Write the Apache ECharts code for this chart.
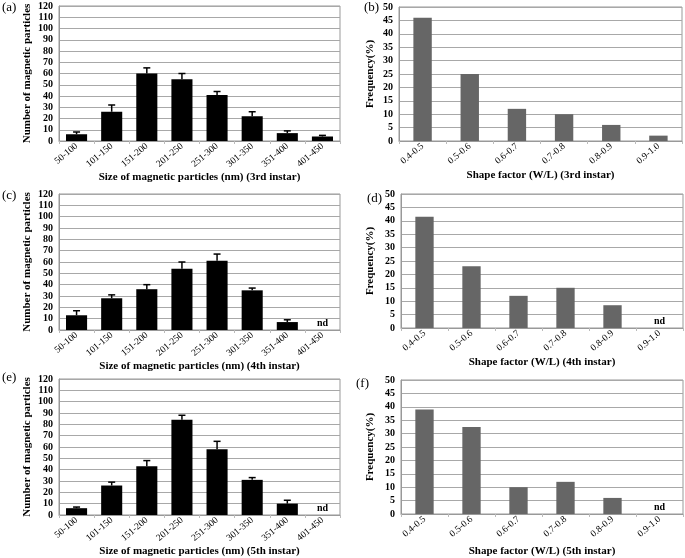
<!DOCTYPE html>
<html><head><meta charset="utf-8">
<script src="https://cdn.jsdelivr.net/npm/echarts@6/dist/echarts.min.js"></script>
<style>html,body{margin:0;padding:0;background:#fff}#c{width:685px;height:558px}</style>
</head><body><div id="c"></div>
<script>
const sizeCats = ['50-100','101-150','151-200','201-250','251-300','301-350','351-400','401-450'];
const shapeCats = ['0.4-0.5','0.5-0.6','0.6-0.7','0.7-0.8','0.8-0.9','0.9-1.0'];
const sizeTicks = [0,10,20,30,40,50,60,70,80,90,100,110,120];
const shapeTicks = [0,5,10,15,20,25,30,35,40,45,50];

const size3 = [6, 26, 60, 55, 41, 22, 7, 4];
const size3Err = [8, 32, 65, 60, 44, 26, 9, 5];
const size4 = [13, 28, 36, 54, 61, 35, 7, null];
const size4Err = [17, 31, 40, 60, 67, 37, 9, null];
const size5 = [6, 26, 43, 84, 58, 31, 10, null];
const size5Err = [7, 29, 48, 88, 65, 33, 13, null];
const shape3 = [46, 25, 12, 10, 6, 2];
const shape4 = [41.5, 23, 12, 15, 8.5, null];
const shape5 = [39, 32.5, 10, 12, 6, null];

const sizeTitles = ['Size of magnetic particles (nm) (3rd instar)','Size of magnetic particles (nm) (4th instar)','Size of magnetic particles (nm) (5th instar)'];
const shapeTitles = ['Shape factor (W/L) (3rd instar)','Shape factor (W/L) (4th instar)','Shape factor (W/L) (5th instar)'];
const panelLabels = ['(a)','(b)','(c)','(d)','(e)','(f)'];

const FONT = '"Liberation Serif", "Times New Roman", serif';
const chart = echarts.init(document.getElementById('c'));

const grids = [
  {left:59, width:281, top:6, height:135},
  {left:399, width:283, top:7, height:134},
  {left:59, width:281, top:194, height:136},
  {left:401, width:282, top:194, height:134},
  {left:59, width:281, top:379, height:137},
  {left:401, width:282, top:380, height:134}
];
const xGaps = [30, 29, 26, 29, 30, 32];
const yGaps = [26, 23, 26, 25, 26, 25];

const xAxes = [], yAxes = [], series = [];
const sizeSets = [[size3,size3Err],[size4,size4Err],[size5,size5Err]];
const shapeSets = [shape3, shape4, shape5];

function barData(arr){
  return arr.map(v => v === null
    ? {value:0, label:{show:true, position:'top', formatter:'nd', fontFamily:FONT, fontWeight:'bold', fontSize:10, color:'#000', distance:2}}
    : v);
}
function xAxis(gi, cats, name){
  return {gridIndex:gi, type:'category', data:cats,
    name:name, nameLocation:'middle', nameGap:xGaps[gi],
    nameTextStyle:{fontFamily:FONT, fontWeight:'bold', fontSize:11, color:'#000'},
    axisLine:{lineStyle:{color:'#999'}}, axisTick:{show:true, length:3, lineStyle:{color:'#bbb'}},
    axisLabel:{rotate:40, fontFamily:FONT, fontSize:9.5, color:'#000', margin:4, interval:0}};
}
function yAxis(gi, max, interval, name){
  return {gridIndex:gi, type:'value', min:0, max:max, interval:interval,
    name:name, nameLocation:'middle', nameGap:yGaps[gi],
    nameTextStyle:{fontFamily:FONT, fontWeight:'bold', fontSize:11, color:'#000'},
    axisLine:{show:true, lineStyle:{color:'#999'}}, axisTick:{show:false},
    axisLabel:{fontFamily:FONT, fontWeight:'bold', fontSize:10, color:'#000', margin:6},
    splitLine:{lineStyle:{color:'#a8a8a8'}}};
}

for (let r = 0; r < 3; r++) {
  const gi = r*2, gj = r*2+1;
  xAxes.push(xAxis(gi, sizeCats, sizeTitles[r]));
  yAxes.push(yAxis(gi, 120, 10, 'Number of magnetic particles'));
  xAxes.push(xAxis(gj, shapeCats, shapeTitles[r]));
  yAxes.push(yAxis(gj, 50, 5, 'Frequency(%)'));

  const [vals, errs] = sizeSets[r];
  series.push({type:'bar', xAxisIndex:gi, yAxisIndex:gi, data:barData(vals),
    barWidth:'60%', itemStyle:{color:'#000'}, silent:true});
  series.push({type:'custom', xAxisIndex:gi, yAxisIndex:gi,
    data: vals.map((v,i) => v === null ? null : [i, v, errs[i]]).filter(d => d),
    renderItem: function(params, api){
      const base = api.coord([api.value(0), api.value(1)]);
      const top = api.coord([api.value(0), api.value(2)]);
      const cw = 3.5;
      return {type:'group', children:[
        {type:'line', shape:{x1:base[0], y1:base[1], x2:top[0], y2:top[1]}, style:{stroke:'#000', lineWidth:1.5}},
        {type:'line', shape:{x1:top[0]-cw, y1:top[1], x2:top[0]+cw, y2:top[1]}, style:{stroke:'#000', lineWidth:1.5}}
      ]};
    }, z:5});

  series.push({type:'bar', xAxisIndex:gj, yAxisIndex:gj, data:barData(shapeSets[r]),
    barWidth:'39%', itemStyle:{color:'#666'}, silent:true});
}

chart.setOption({
  animation:false,
  grid: grids.map(g => Object.assign({show:true, borderColor:'#999', borderWidth:1, backgroundColor:'#fff'}, g)),
  xAxis: xAxes, yAxis: yAxes, series: series,
  graphic: [
    {type:'text', left:2, top:1, style:{text:'(a)', font:'13px '+FONT, fill:'#000'}},
    {type:'text', left:364, top:1, style:{text:'(b)', font:'13px '+FONT, fill:'#000'}},
    {type:'text', left:2, top:189, style:{text:'(c)', font:'13px '+FONT, fill:'#000'}},
    {type:'text', left:367, top:192, style:{text:'(d)', font:'13px '+FONT, fill:'#000'}},
    {type:'text', left:2, top:371, style:{text:'(e)', font:'13px '+FONT, fill:'#000'}},
    {type:'text', left:356, top:377, style:{text:'(f)', font:'13px '+FONT, fill:'#000'}}
  ]
});
</script></body></html>
